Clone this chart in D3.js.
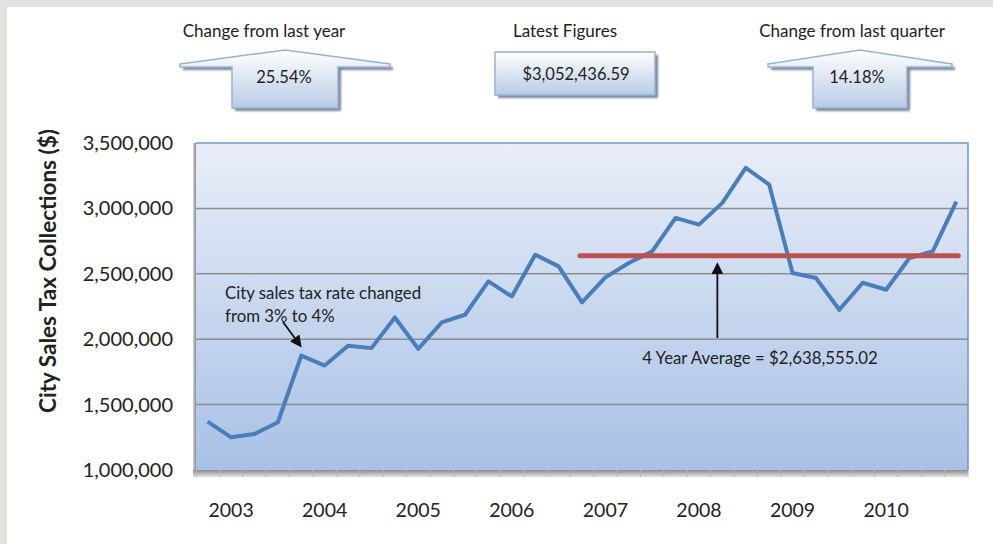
<!DOCTYPE html>
<html>
<head>
<meta charset="utf-8">
<script src="https://cdn.jsdelivr.net/npm/d3@7"></script>
<style>
  body { margin: 0; background: #e3e2e0; }
  svg { display: block; }
  text { font-family: Lato, "Open Sans", sans-serif; fill: #222; }
</style>
</head>
<body>
<div id="chart-area"></div>
<script>
// quarterly collections, 2003 through early 2011
let quarters = [
  "2003 Q1", "2003 Q2", "2003 Q3", "2003 Q4",
  "2004 Q1", "2004 Q2", "2004 Q3", "2004 Q4",
  "2005 Q1", "2005 Q2", "2005 Q3", "2005 Q4",
  "2006 Q1", "2006 Q2", "2006 Q3", "2006 Q4",
  "2007 Q1", "2007 Q2", "2007 Q3", "2007 Q4",
  "2008 Q1", "2008 Q2", "2008 Q3", "2008 Q4",
  "2009 Q1", "2009 Q2", "2009 Q3", "2009 Q4",
  "2010 Q1", "2010 Q2", "2010 Q3", "2010 Q4",
  "2011 Q1"
];
let collections = [
  1370000, 1250000, 1275600, 1365000,
  1875000, 1798600, 1949500, 1931700,
  2166000, 1926500, 2128000, 2186800,
  2442000, 2327000, 2646000, 2556700,
  2281000, 2472500, 2582700, 2671500,
  2927000, 2876000, 3042000, 3310000,
  3182000, 2506000, 2468000, 2225000,
  2431445, 2378000, 2621000, 2673100,
  3052436.59
];
let yearLabels = ["2003", "2004", "2005", "2006", "2007", "2008", "2009", "2010"];
let yTicks = [1000000, 1500000, 2000000, 2500000, 3000000, 3500000];
let averageValue = 2638555.02;
let averageFrom = "2007 Q1", averageTo = "2011 Q1";

let summaryTitles = ["Change from last year", "Latest Figures", "Change from last quarter"];
let summaryValues = ["25.54%", "$3,052,436.59", "14.18%"];

// layout of the three summary shapes
let boxLayout = [
  { shape: "arrow", cx: 285, wing: 105, shaft: 53, titleX: 264, valueX: 284 },
  { shape: "box", cx: 575, half: 80, titleX: 565, valueX: 576 },
  { shape: "arrow", cx: 860, wing: 92, shaft: 47, titleX: 852, valueX: 857 }
];

let W = 993, H = 544;
let plot = { left: 196, right: 968, top: 143, bottom: 470 };

let svg = d3.select("#chart-area").append("svg")
  .attr("width", W).attr("height", H);

let defs = svg.append("defs");
let bgGrad = defs.append("linearGradient").attr("id", "plotbg")
  .attr("x1", 0).attr("y1", 0).attr("x2", 0).attr("y2", 1);
bgGrad.append("stop").attr("offset", "0%").attr("stop-color", "#e9eef8");
bgGrad.append("stop").attr("offset", "100%").attr("stop-color", "#a8c1e6");

let boxGrad = defs.append("linearGradient").attr("id", "boxbg")
  .attr("x1", 0).attr("y1", 0).attr("x2", 0).attr("y2", 1);
boxGrad.append("stop").attr("offset", "0%").attr("stop-color", "#ffffff");
boxGrad.append("stop").attr("offset", "100%").attr("stop-color", "#b7cbe5");

let floorGrad = defs.append("linearGradient").attr("id", "floorbg")
  .attr("x1", 0).attr("y1", 0).attr("x2", 0).attr("y2", 1);
floorGrad.append("stop").attr("offset", "0%").attr("stop-color", "#8a8a8a");
floorGrad.append("stop").attr("offset", "100%").attr("stop-color", "#e6e6e6");

let wallGrad = defs.append("linearGradient").attr("id", "wallbg")
  .attr("x1", 0).attr("y1", 0).attr("x2", 1).attr("y2", 0);
wallGrad.append("stop").attr("offset", "0%").attr("stop-color", "#d8d8d8");
wallGrad.append("stop").attr("offset", "100%").attr("stop-color", "#8a8a8a");

let shadow = defs.append("filter").attr("id", "shadow")
  .attr("x", "-10%").attr("y", "-10%").attr("width", "130%").attr("height", "140%");
shadow.append("feGaussianBlur").attr("stdDeviation", 1);

let arrowHead = defs.append("marker").attr("id", "head")
  .attr("viewBox", "0 0 10 10").attr("refX", 8).attr("refY", 5)
  .attr("markerWidth", 7.5).attr("markerHeight", 6.5).attr("orient", "auto")
  .attr("markerUnits", "strokeWidth");
arrowHead.append("path").attr("d", "M0,0L10,5L0,10z").attr("fill", "#111");

// white panel
svg.append("rect").attr("x", 7).attr("y", 7).attr("width", W).attr("height", H)
  .attr("fill", "#ffffff");

// scales
let xScale = d3.scaleBand().domain(quarters).range([plot.left, plot.right]);
let yScale = d3.scaleLinear().domain([1000000, 3500000]).range([plot.bottom, plot.top]);
let cx = function(q) { return xScale(q) + xScale.bandwidth() / 2; };

// plot background, wall and floor
svg.append("rect")
  .attr("x", plot.left - 3).attr("y", plot.top)
  .attr("width", 3).attr("height", plot.bottom - plot.top + 2)
  .attr("fill", "url(#wallbg)");
svg.append("rect")
  .attr("x", plot.left).attr("y", plot.top)
  .attr("width", plot.right - plot.left).attr("height", plot.bottom - plot.top)
  .attr("fill", "url(#plotbg)");
svg.append("rect")
  .attr("x", plot.left - 3).attr("y", plot.bottom)
  .attr("width", plot.right - plot.left + 3).attr("height", 7)
  .attr("fill", "url(#floorbg)");

// tick marks in the floor
svg.append("g").selectAll("line")
  .data(quarters.concat(["end"]))
  .enter().append("line")
  .attr("x1", function(d, i) { return plot.left + i * xScale.step(); })
  .attr("x2", function(d, i) { return plot.left + i * xScale.step(); })
  .attr("y1", plot.bottom).attr("y2", plot.bottom + 7)
  .attr("stroke", "#b5b5b5").attr("stroke-width", 1);

// gridlines
svg.append("g").selectAll("line")
  .data(yTicks.slice(1, -1))
  .enter().append("line")
  .attr("x1", plot.left).attr("x2", plot.right)
  .attr("y1", function(d) { return yScale(d); })
  .attr("y2", function(d) { return yScale(d); })
  .attr("stroke", "#8e8e8e").attr("stroke-width", 1.5);

// top and right border
svg.append("path")
  .attr("d", "M" + plot.left + "," + plot.top + "H" + plot.right + "V" + plot.bottom)
  .attr("fill", "none").attr("stroke", "#6f96c9").attr("stroke-width", 1.5);

// y axis labels
let fmt = d3.format(",");
svg.append("g").selectAll("text")
  .data(yTicks)
  .enter().append("text")
  .attr("x", 173)
  .attr("y", function(d) { return yScale(d); })
  .attr("dy", "0.35em")
  .attr("text-anchor", "end")
  .style("font-size", "20px")
  .text(function(d) { return fmt(d); });

svg.append("text")
  .attr("transform", "translate(56,271) rotate(-90)")
  .attr("text-anchor", "middle")
  .style("font-size", "22.5px").style("font-weight", "bold")
  .text("City Sales Tax Collections ($)");

// year labels under the second quarter of each year
svg.append("g").selectAll("text")
  .data(yearLabels)
  .enter().append("text")
  .attr("x", function(d, i) { return cx(quarters[1 + i * 4]); })
  .attr("y", 517)
  .attr("text-anchor", "middle")
  .style("font-size", "19.5px")
  .text(function(d) { return d; });

// collections line
let line = d3.line()
  .x(function(d, i) { return cx(quarters[i]); })
  .y(function(d) { return yScale(d); });

svg.append("path")
  .datum(collections)
  .attr("d", line)
  .attr("fill", "none")
  .attr("stroke", "#4a7ebb")
  .attr("stroke-width", 4)
  .attr("stroke-linejoin", "round");

// 4 year average
svg.append("line")
  .attr("x1", cx(averageFrom) - 2).attr("x2", cx(averageTo) + 2)
  .attr("y1", yScale(averageValue)).attr("y2", yScale(averageValue))
  .attr("stroke", "#c0504d").attr("stroke-width", 5)
  .attr("stroke-linecap", "round");

// annotations
let avgX = cx("2008 Q3") - 5;
svg.append("line")
  .attr("x1", avgX).attr("x2", avgX)
  .attr("y1", 338).attr("y2", yScale(averageValue) + 9)
  .attr("stroke", "#111").attr("stroke-width", 1.8)
  .attr("marker-end", "url(#head)");
svg.append("text")
  .attr("x", 760).attr("y", 364)
  .attr("text-anchor", "middle")
  .style("font-size", "16.8px")
  .text("4 Year Average = $" + d3.format(",.2f")(averageValue));

let note = svg.append("text").attr("x", 225).attr("y", 299).style("font-size", "16.8px");
note.append("tspan").attr("x", 225).text("City sales tax rate changed");
note.append("tspan").attr("x", 225).attr("dy", 23).text("from 3% to 4%");
svg.append("line")
  .attr("x1", 283).attr("y1", 322)
  .attr("x2", cx("2004 Q1") - 1).attr("y2", yScale(collections[4]) - 10)
  .attr("stroke", "#111").attr("stroke-width", 1.8)
  .attr("marker-end", "url(#head)");

// summary boxes
boxLayout.forEach(function(b, i) {
  let c = b.cx;
  let g = svg.append("g");
  g.append("text")
    .attr("x", b.titleX).attr("y", 37)
    .attr("text-anchor", "middle")
    .style("font-size", "17px")
    .text(summaryTitles[i]);
  let d;
  if (b.shape === "arrow") {
    let tip = 50, wingY = 64, wingB = 67, bottom = 108;
    d = "M" + (c - b.wing) + "," + wingY + "L" + c + "," + tip + "L" + (c + b.wing) + "," + wingY +
      "L" + (c + b.wing) + "," + wingB + "L" + (c + b.shaft) + "," + wingB +
      "L" + (c + b.shaft) + "," + bottom + "L" + (c - b.shaft) + "," + bottom +
      "L" + (c - b.shaft) + "," + wingB + "L" + (c - b.wing) + "," + wingB + "Z";
  } else {
    d = "M" + (c - b.half) + ",52H" + (c + b.half) + "V95H" + (c - b.half) + "Z";
  }
  g.append("path").attr("d", d)
    .attr("transform", "translate(3,3)")
    .attr("fill", "#7b849a").attr("filter", "url(#shadow)");
  g.append("path").attr("d", d)
    .attr("fill", "url(#boxbg)")
    .attr("stroke", "#95b3d7").attr("stroke-width", 1.5);
  g.append("text")
    .attr("x", b.valueX).attr("y", b.shape === "arrow" ? 83 : 80)
    .attr("text-anchor", "middle")
    .style("font-size", "16.5px")
    .text(summaryValues[i]);
});
</script>
</body>
</html>
